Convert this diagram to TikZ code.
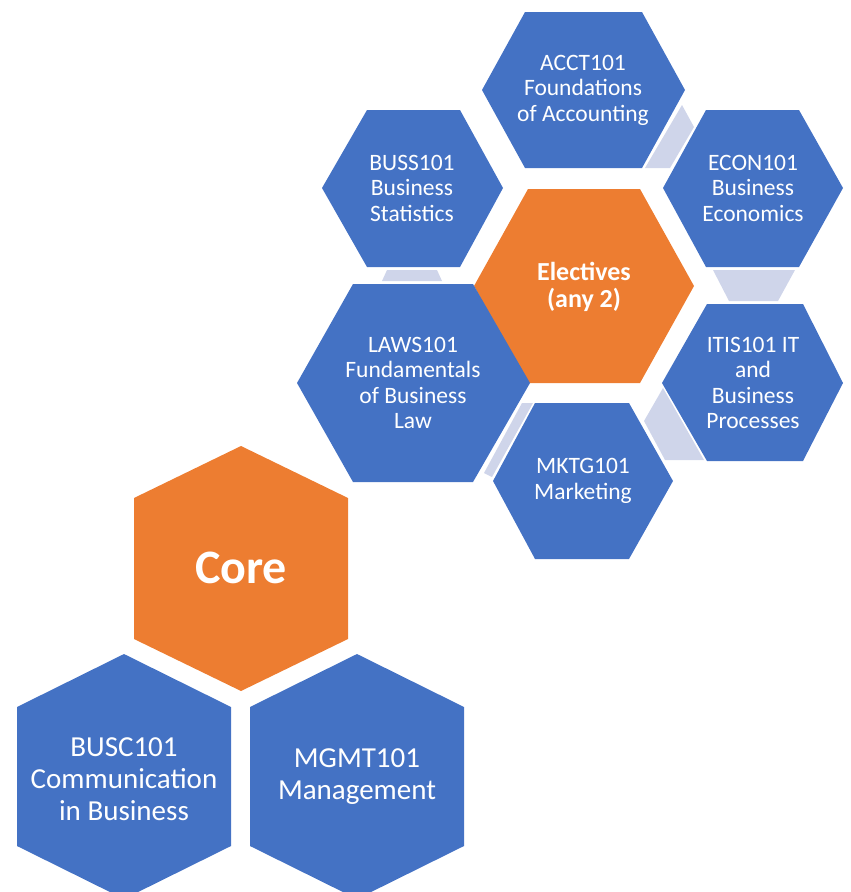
\documentclass[tikz,border=0pt]{standalone}
\usepackage{fontspec}
\setmainfont{Carlito}
\definecolor{hexblue}{HTML}{4472C4}
\definecolor{hexorange}{HTML}{ED7D31}
\definecolor{hexlink}{HTML}{CFD5EA}
\tikzset{
	hextext/.style={text=white,align=center,inner sep=0pt,font=\fontsize{23.5}{25.5}\selectfont},
	hexbold/.style={text=white,align=center,inner sep=0pt,font=\fontsize{26}{27}\selectfont\bfseries},
	hexbig/.style={text=white,align=center,inner sep=0pt,font=\fontsize{29}{32}\selectfont}
}

\begin{document}
\begin{tikzpicture}[x=1pt,y=-1pt]
		\useasboundingbox (0,0) rectangle (851,892);
		\clip (0,0) rectangle (851,892);

		\fill[hexlink] (682,105) -- (694,127) -- (670,168) -- (645,168) -- cycle;
		\fill[hexlink] (713,270) -- (795,270) -- (778,301) -- (729,301) -- cycle;
		\fill[hexlink] (387,270) -- (437,270) -- (442,281) -- (382,281) -- cycle;
		\fill[hexlink] (522,403) -- (533,403) -- (492,477) -- (484,473) -- cycle;
		\fill[hexlink] (663,388) -- (644,421) -- (665,460) -- (704,460) -- cycle;

		\fill[hexblue] (482,90) -- (525,12) -- (642,12) -- (685,90) -- (642,168) -- (525,168) -- cycle;
		\node[hextext] (acct) at (583,90) {ACCT101\\Foundations\\of Accounting};

		\fill[hexblue] (663,188) -- (706,110) -- (799,110) -- (843,188) -- (799,267) -- (706,267) -- cycle;
		\node[hextext] (econ) at (753,188) {ECON101\\Business\\Economics};

		\fill[hexblue] (322,188) -- (367,110) -- (460,110) -- (503,188) -- (460,267) -- (367,267) -- cycle;
		\node[hextext] (buss) at (412,188) {BUSS101\\Business\\Statistics};

		\fill[hexorange] (474,286) -- (528,189) -- (640,189) -- (694,286) -- (640,383) -- (528,383) -- cycle;
		\node[hexbold] (elect) at (584,287) {Electives\\(any 2)};

		\fill[hexblue] (297,383) -- (353,284) -- (473,284) -- (530,383) -- (473,482) -- (353,482) -- cycle;
		\node[hextext] (laws) at (413,383) {LAWS101\\Fundamentals\\of Business\\Law};

		\fill[hexblue] (662,383) -- (707,304) -- (803,304) -- (843,383) -- (803,461) -- (707,461) -- cycle;
		\node[hextext] (itis) at (753,383) {ITIS101 IT\\and\\Business\\Processes};

		\fill[hexblue] (493,481) -- (535,403) -- (629,403) -- (673,481) -- (629,559) -- (535,559) -- cycle;
		\node[hextext] (mktg) at (583,481) {MKTG101\\Marketing};

		\fill[hexorange] (241,446) -- (348,498) -- (348,639) -- (241,691) -- (134,639) -- (134,498) -- cycle;
		\node[text=white,inner sep=0pt,font=\fontsize{48}{50}\selectfont\bfseries] (core) at (241,568) {Core};

		\fill[hexblue] (124,654) -- (231,707) -- (231,846) -- (124,899) -- (17,846) -- (17,707) -- cycle;
		\node[hexbig] (busc) at (124,779) {BUSC101\\Communication\\in Business};

		\fill[hexblue] (357,654) -- (464,707) -- (464,846) -- (357,899) -- (250,846) -- (250,707) -- cycle;
		\node[hexbig] (mgmt) at (357,777) {MGMT101\\Management};
	\end{tikzpicture}
\end{document}
